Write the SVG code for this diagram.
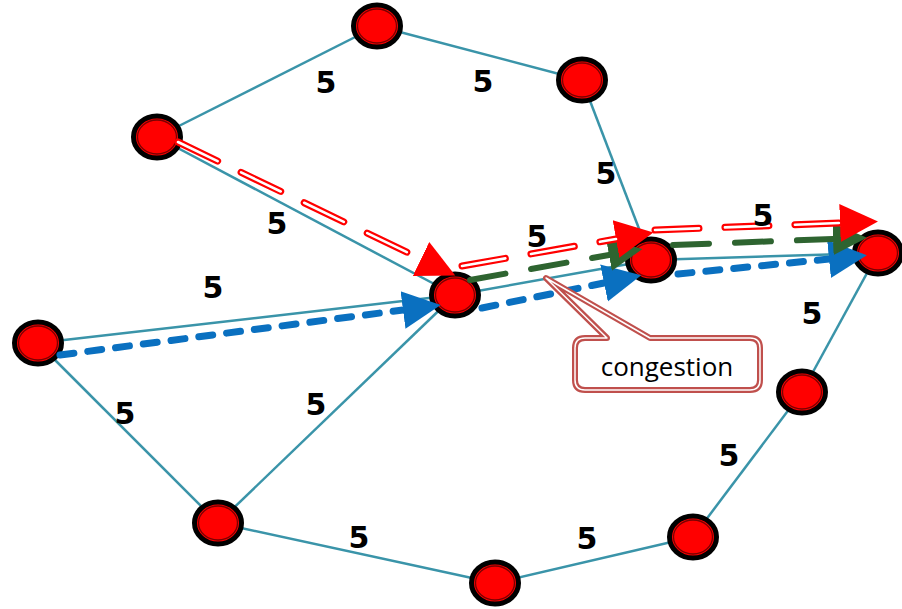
<svg xmlns="http://www.w3.org/2000/svg" width="902" height="609" viewBox="0 0 902 609">
<style>
.e{stroke:#3a94a9;stroke-width:2.5;fill:none}
.lbl{font-family:"DejaVu Sans",sans-serif;font-weight:bold;font-size:30px;fill:#000;text-anchor:middle}
.no{fill:#ff0000;stroke:#000;stroke-width:5}
.ni{fill:none;stroke:#7a0000;stroke-width:1.3}
.ro{stroke:#ff0000;stroke-width:7;fill:none;stroke-linecap:round;stroke-dasharray:44 26}
.ri{stroke:#fff;stroke-width:2.6;fill:none;stroke-linecap:round;stroke-dasharray:44 26}
.gr{stroke:#2e6430;stroke-width:6;fill:none;stroke-linecap:round;stroke-dasharray:36 26}
.bl{stroke:#0a70c0;stroke-width:7;fill:none;stroke-linecap:round;stroke-dasharray:14 14}
</style>
<defs>
<marker id="ar" markerUnits="userSpaceOnUse" viewBox="0 -21 42 42" refX="0" refY="0" markerWidth="42" markerHeight="42" orient="auto"><path d="M0,-19 L38,0 L0,19 z" fill="#ff0000"/></marker>
<marker id="ag" markerUnits="userSpaceOnUse" viewBox="0 -21 42 42" refX="0" refY="0" markerWidth="42" markerHeight="42" orient="auto"><path d="M0,-16 L34,0 L0,16 z" fill="#2e6430"/></marker>
<marker id="ab" markerUnits="userSpaceOnUse" viewBox="0 -21 42 42" refX="0" refY="0" markerWidth="42" markerHeight="42" orient="auto"><path d="M0,-19 L38,0 L0,19 z" fill="#0a70c0"/></marker>
</defs>
<g id="connectors">
<line class="e" x1="157" y1="137" x2="377" y2="26"/>
<line class="e" x1="377" y1="26" x2="582" y2="80"/>
<line class="e" x1="582" y1="80" x2="651" y2="260"/>
<line class="e" x1="157" y1="137" x2="455" y2="295"/>
<line class="e" x1="38" y1="343" x2="455" y2="295"/>
<line class="e" x1="455" y1="295" x2="651" y2="260"/>
<line class="e" x1="651" y1="260" x2="878" y2="253"/>
<line class="e" x1="878" y1="253" x2="802" y2="392"/>
<line class="e" x1="802" y1="392" x2="693" y2="537"/>
<line class="e" x1="693" y1="537" x2="495" y2="583"/>
<line class="e" x1="495" y1="583" x2="218" y2="523"/>
<line class="e" x1="218" y1="523" x2="38" y2="343"/>
<line class="e" x1="218" y1="523" x2="455" y2="295"/>
</g>
<g id="nodes">
<g id="n1"><ellipse class="no" cx="377" cy="26" rx="23.5" ry="21"/><ellipse class="ni" cx="377" cy="26" rx="19.5" ry="17"/></g>
<g id="n2"><ellipse class="no" cx="582" cy="80" rx="23.5" ry="21"/><ellipse class="ni" cx="582" cy="80" rx="19.5" ry="17"/></g>
<g id="n3"><ellipse class="no" cx="157" cy="137" rx="23.5" ry="21"/><ellipse class="ni" cx="157" cy="137" rx="19.5" ry="17"/></g>
<g id="n4"><ellipse class="no" cx="651" cy="260" rx="23.5" ry="21"/><ellipse class="ni" cx="651" cy="260" rx="19.5" ry="17"/></g>
<g id="n5"><ellipse class="no" cx="878" cy="253" rx="23.5" ry="21"/><ellipse class="ni" cx="878" cy="253" rx="19.5" ry="17"/></g>
<g id="n6"><ellipse class="no" cx="455" cy="295" rx="23.5" ry="21"/><ellipse class="ni" cx="455" cy="295" rx="19.5" ry="17"/></g>
<g id="n7"><ellipse class="no" cx="38" cy="343" rx="23.5" ry="21"/><ellipse class="ni" cx="38" cy="343" rx="19.5" ry="17"/></g>
<g id="n8"><ellipse class="no" cx="802" cy="392" rx="23.5" ry="21"/><ellipse class="ni" cx="802" cy="392" rx="19.5" ry="17"/></g>
<g id="n9"><ellipse class="no" cx="218" cy="523" rx="23.5" ry="21"/><ellipse class="ni" cx="218" cy="523" rx="19.5" ry="17"/></g>
<g id="n10"><ellipse class="no" cx="693" cy="537" rx="23.5" ry="21"/><ellipse class="ni" cx="693" cy="537" rx="19.5" ry="17"/></g>
<g id="n11"><ellipse class="no" cx="495" cy="583" rx="23.5" ry="21"/><ellipse class="ni" cx="495" cy="583" rx="19.5" ry="17"/></g>
</g>
<g id="flows">
<path class="bl" d="M60,355 L403,310" marker-end="url(#ab)"/>
<path class="bl" d="M482,308 L604,283" marker-end="url(#ab)"/>
<path class="bl" d="M678,274 L829,259" marker-end="url(#ab)"/>
<path class="gr" d="M470,280 L609,255" marker-end="url(#ag)"/>
<path class="gr" d="M673,245 L833,239" marker-end="url(#ag)"/>
<path class="ro" d="M178,142 L421,259" marker-end="url(#ar)"/>
<path class="ri" d="M178,142 L421,259"/>
<path class="ro" d="M462,266 L616,239" marker-end="url(#ar)"/>
<path class="ri" d="M462,266 L616,239"/>
<path class="ro" d="M655,230 L840,223" marker-end="url(#ar)"/>
<path class="ri" d="M655,230 L840,223"/>
</g>
<g id="labels">
<text class="lbl" x="326" y="93">5</text>
<text class="lbl" x="483" y="92">5</text>
<text class="lbl" x="606" y="184">5</text>
<text class="lbl" x="277" y="234">5</text>
<text class="lbl" x="537" y="247">5</text>
<text class="lbl" x="763" y="226">5</text>
<text class="lbl" x="213" y="298">5</text>
<text class="lbl" x="812" y="324">5</text>
<text class="lbl" x="125" y="424">5</text>
<text class="lbl" x="316" y="415">5</text>
<text class="lbl" x="729" y="466">5</text>
<text class="lbl" x="359" y="548">5</text>
<text class="lbl" x="587" y="549">5</text>
</g>
<g id="callout">
<path d="M585,338 H607 L546,278 L650,338 H750 Q760,338 760,348 V380 Q760,390 750,390 H585 Q575,390 575,380 V348 Q575,338 585,338 Z" fill="#fff" stroke="#c0504d" stroke-width="6" stroke-linejoin="round"/>
<path d="M585,338 H607 L546,278 L650,338 H750 Q760,338 760,348 V380 Q760,390 750,390 H585 Q575,390 575,380 V348 Q575,338 585,338 Z" fill="none" stroke="#fff" stroke-width="1.5" stroke-linejoin="round"/>
<text x="667" y="376" font-family="'Open Sans',sans-serif" font-size="26" fill="#000" text-anchor="middle">congestion</text>
</g>
</svg>
